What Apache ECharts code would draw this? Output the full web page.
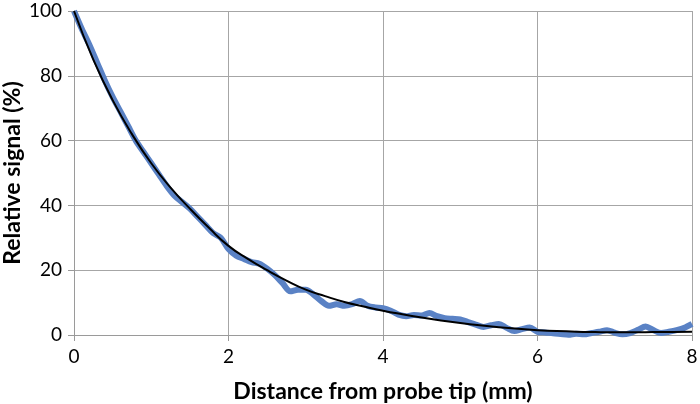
<!DOCTYPE html>
<html>
<head>
<meta charset="utf-8">
<script src="https://cdn.jsdelivr.net/npm/echarts@6/dist/echarts.min.js"></script>
<style>html,body{margin:0;padding:0;background:#fff}#c{width:700px;height:404px}</style>
</head>
<body>
<div id="c"></div>
<script>
var measX = [0.0,0.1,0.2,0.3,0.4,0.5,0.6,0.7,0.8,0.9,1.0,1.1,1.2,1.3,1.4,1.5,1.6,1.7,1.8,1.9,2.0,2.1,2.2,2.3,2.4,2.5,2.6,2.7,2.8,2.9,3.0,3.1,3.2,3.3,3.4,3.5,3.6,3.7,3.8,3.9,4.0,4.1,4.2,4.3,4.4,4.5,4.6,4.7,4.8,4.9,5.0,5.1,5.2,5.3,5.4,5.5,5.6,5.7,5.8,5.9,6.0,6.1,6.2,6.3,6.4,6.5,6.6,6.7,6.8,6.9,7.0,7.1,7.2,7.3,7.4,7.5,7.6,7.7,7.8,7.9,8.0];
var measY = [100,94.5,89.5,84,78.5,73.5,69,64.5,60,56.5,53,49.5,46,43,41,39,36.5,34,31.5,30,26.5,24.5,23.5,22.5,22,20.5,18.5,16,13.5,14,14,12.5,10.5,9,9.5,9,9.5,10.5,9,8.5,8.3,7.5,6.3,5.8,6.2,6.0,6.8,5.8,5.2,5.0,4.8,4.0,3.2,2.5,3.0,3.4,2.2,1.2,1.8,2.3,1.0,0.8,0.5,0.3,0.1,0.4,0.2,0.6,1.0,1.5,0.7,0.2,0.6,1.6,2.6,1.5,0.6,1.0,1.5,2.2,3.4];
var fitX = [0,0.25,0.5,0.75,1,1.25,1.5,1.75,2,2.25,2.5,2.75,3,3.25,3.5,3.75,4,4.25,4.5,4.75,5,5.25,5.5,5.75,6,6.25,6.5,6.75,7,7.25,7.5,7.75,8];
var fitY = [100,85,72.5,62,53,45.5,39,33,27.5,23.5,20,16.8,14,12,10.2,8.8,7.5,6.4,5.4,4.5,3.7,3.0,2.4,1.9,1.5,1.2,1.0,0.9,0.85,0.85,0.9,0.95,1.0];
var xTitle = 'Distance from probe tip (mm)';
var yTitle = 'Relative signal (%)';

function pairs(xs, ys){ return xs.map(function(v,i){return [v, ys[i]];}); }

var font = 'Lato, "Open Sans", sans-serif';
var chart = echarts.init(document.getElementById('c'), null, {renderer:'canvas'});
chart.setOption({
  animation: false,
  grid: {left: 74, right: 8, top: 11, bottom: 69, containLabel: false, outerBoundsMode: 'none'},
  xAxis: {
    type: 'value', min: 0, max: 8, interval: 2,
    name: xTitle, nameLocation: 'middle', nameGap: 45, nameMoveOverlap: false,
    nameTextStyle: {fontFamily: font, fontWeight: 'bold', fontSize: 23, color: '#000'},
    axisLine: {show: true, lineStyle: {color: '#9a9a9a', width: 1}},
    axisTick: {show: true, length: 6, lineStyle: {color: '#9a9a9a'}},
    axisLabel: {fontFamily: font, fontSize: 19, color: '#000', margin: 12},
    splitLine: {show: true, lineStyle: {color: '#a6a6a6', width: 1}}
  },
  yAxis: {
    type: 'value', min: 0, max: 100, interval: 20,
    name: yTitle, nameLocation: 'middle', nameGap: 50, nameRotate: 90, nameMoveOverlap: false,
    nameTextStyle: {fontFamily: font, fontWeight: 'bold', fontSize: 23, color: '#000'},
    axisLine: {show: true, lineStyle: {color: '#9a9a9a', width: 1}},
    axisTick: {show: true, length: 6, lineStyle: {color: '#9a9a9a'}},
    axisLabel: {fontFamily: font, fontSize: 19, color: '#000', margin: 12},
    splitLine: {show: true, lineStyle: {color: '#a6a6a6', width: 1}}
  },
  series: [
    {
      type: 'line', data: pairs(measX, measY), showSymbol: false, smooth: 0.3,
      lineStyle: {color: '#5a82c5', width: 6}, z: 2
    },
    {
      type: 'line', data: pairs(fitX, fitY), showSymbol: false, smooth: true,
      lineStyle: {color: '#000', width: 2}, z: 3
    }
  ]
});
</script>
</body>
</html>
